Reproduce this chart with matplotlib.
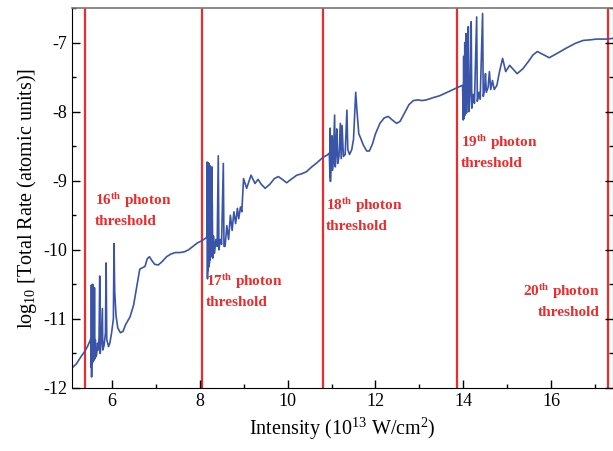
import matplotlib
matplotlib.use("Agg")
import matplotlib.pyplot as plt
from matplotlib.ticker import MultipleLocator

plt.rcParams['font.family'] = ['Liberation Serif', 'DejaVu Serif']
plt.rcParams['mathtext.fontset'] = 'custom'
plt.rcParams['mathtext.rm'] = 'Liberation Serif'
plt.rcParams['mathtext.bf'] = 'Liberation Serif:bold'
plt.rcParams['mathtext.it'] = 'Liberation Serif:italic'
plt.rcParams['axes.unicode_minus'] = False

# Intensity (10^13 W/cm^2)
intensity = [
    5.10, 5.20, 5.30, 5.39, 5.45, 5.50, 5.53, 5.535, 5.54, 5.545, 5.55, 5.555,
    5.56, 5.565, 5.57, 5.575, 5.585, 5.59, 5.595, 5.605, 5.61, 5.617, 5.63,
    5.64, 5.66, 5.68, 5.70, 5.715, 5.73, 5.74, 5.76, 5.79, 5.80, 5.83, 5.86,
    5.875, 5.89, 5.93, 5.96, 6.00, 6.04, 6.055, 6.07, 6.10, 6.14, 6.20, 6.26,
    6.32, 6.42, 6.50, 6.58, 6.64, 6.70, 6.76, 6.81, 6.86, 6.92, 6.98, 7.06,
    7.15, 7.25, 7.35, 7.45, 7.55, 7.65, 7.75, 7.85, 7.95, 8.05, 8.12, 8.16,
    8.168, 8.175, 8.18, 8.188, 8.195, 8.202, 8.208, 8.215, 8.222, 8.23, 8.24,
    8.25, 8.265, 8.28, 8.30, 8.315, 8.34, 8.37, 8.40, 8.425, 8.44, 8.47,
    8.50, 8.54, 8.555, 8.58, 8.62, 8.66, 8.70, 8.74, 8.78, 8.82, 8.86, 8.89,
    8.93, 8.96, 9.00, 9.07, 9.17, 9.26, 9.33, 9.40, 9.49, 9.60, 9.70, 9.79,
    9.88, 9.98, 10.08, 10.21, 10.32, 10.43, 10.55, 10.65, 10.74, 10.81,
    10.90, 10.95, 10.965, 10.97, 10.975, 10.99, 11.01, 11.02, 11.04, 11.07,
    11.085, 11.10, 11.12, 11.14, 11.17, 11.20, 11.22, 11.24, 11.27, 11.31,
    11.35, 11.37, 11.41, 11.46, 11.50, 11.55, 11.58, 11.62, 11.66, 11.72,
    11.80, 11.86, 11.93, 12.00, 12.10, 12.20, 12.29, 12.38, 12.48, 12.56,
    12.66, 12.76, 12.86, 12.96, 13.06, 13.16, 13.30, 13.46, 13.60, 13.70,
    13.80, 13.90, 13.98, 13.995, 14.005, 14.015, 14.03, 14.04, 14.055, 14.07,
    14.09, 14.11, 14.125, 14.15, 14.175, 14.19, 14.22, 14.25, 14.30, 14.315,
    14.35, 14.38, 14.435, 14.45, 14.48, 14.50, 14.52, 14.56, 14.59, 14.62,
    14.66, 14.70, 14.76, 14.82, 14.89, 14.96, 15.05, 15.12, 15.22, 15.35,
    15.47, 15.58, 15.68, 15.80, 15.95, 16.15, 16.34, 16.55, 16.72, 16.90,
    17.02, 17.25, 17.40,
]

# log10 total rate (atomic units)
log_rate = [
    -11.71, -11.65, -11.55, -11.47, -11.40, -11.33, -11.28, -11.70, -10.51,
    -11.84, -11.45, -10.53, -11.65, -11.35, -10.50, -11.62, -11.40, -10.62,
    -11.60, -11.38, -10.55, -11.58, -11.30, -11.55, -11.52, -11.35, -11.45,
    -11.25, -10.38, -11.50, -11.35, -10.85, -11.45, -11.38, -11.20, -10.19,
    -11.30, -11.40, -11.35, -11.20, -11.00, -9.91, -10.60, -10.95, -11.13,
    -11.20, -11.18, -11.08, -10.97, -10.80, -10.50, -10.28, -10.26, -10.24,
    -10.13, -10.10, -10.16, -10.21, -10.22, -10.17, -10.10, -10.06, -10.04,
    -10.04, -10.03, -10.00, -9.95, -9.90, -9.87, -9.84, -9.82,
    -9.80, -8.73, -10.42, -8.74, -10.30, -8.76, -10.25, -8.75, -10.20, -8.78,
    -10.15, -9.80, -10.10, -8.80, -10.12, -9.80, -10.05, -9.85, -9.95, -8.64,
    -10.00, -9.85, -9.92, -8.75, -9.95, -9.95, -9.65, -9.85, -9.50, -9.72,
    -9.45, -9.62, -9.40, -9.55, -9.38, -9.45, -8.97, -9.11, -8.92, -9.04,
    -8.98, -9.05, -9.11, -9.05, -8.97, -8.94, -8.98, -9.03, -8.98, -8.92,
    -8.90, -8.87, -8.80, -8.75, -8.70, -8.66, -8.63, -8.60, -8.95, -8.24,
    -9.01, -8.70, -8.35, -8.85, -8.70, -8.05, -8.80, -8.60, -8.25, -8.75,
    -8.65, -8.17, -8.68, -8.20, -8.65, -8.62, -7.98, -8.55, -8.62, -8.55,
    -8.40, -7.72, -8.00, -8.32, -8.38, -8.48, -8.57, -8.57, -8.47, -8.32,
    -8.17, -8.09, -8.07, -8.12, -8.17, -8.14, -8.02, -7.90, -7.84, -7.83,
    -7.84, -7.83, -7.80, -7.77, -7.73, -7.70, -7.67, -7.64, -7.62, -8.12,
    -7.20, -8.10, -7.00, -8.05, -6.87, -8.02, -7.60, -6.77, -8.00, -7.75,
    -6.70, -7.95, -7.75, -7.88, -6.63, -7.85, -7.72, -7.82, -6.58, -7.78,
    -7.68, -7.45, -7.72, -7.65, -7.42, -7.68, -7.55, -7.68, -7.62, -7.42,
    -7.23, -7.42, -7.33, -7.38, -7.45, -7.38, -7.28, -7.18, -7.13, -7.17,
    -7.22, -7.15, -7.08, -7.01, -6.97, -6.96, -6.95, -6.95, -6.94,
]

# photon thresholds (intensity positions)
thresholds = [5.40, 8.05, 10.81, 13.85, 17.28]
threshold_orders = ['16', '17', '18', '19', '20']
label_x = [5.62, 8.15, 10.88, 13.95, 17.10]
label_y = [-9.35, -10.52, -9.43, -8.51, -10.67]
label_ha = ['left', 'left', 'left', 'left', 'right']

fig = plt.figure(figsize=(6.13, 4.51), dpi=100)
ax = fig.add_axes([0.1175, 0.1397, 0.8825, 0.8426])

red = '#ee2a2a'
for t in thresholds:
    ax.axvline(t, color=red, lw=1.6, zorder=1)

ax.plot(intensity, log_rate, color='#3a55a8', lw=1.2, zorder=2)

for n, lx, ly, ha in zip(threshold_orders, label_x, label_y, label_ha):
    ax.text(lx, ly, n + r'$^{\mathbf{th}}$ photon', color=red, fontsize=11,
            fontweight='bold', ha=ha, va='baseline')
    ax.text(lx, ly - 0.29, 'threshold', color=red,
            fontsize=11, fontweight='bold', ha=ha, va='baseline')

ax.set_xlim(5.1, 17.4)
ax.set_ylim(-12, -6.5)
ax.xaxis.set_major_locator(MultipleLocator(2))
ax.xaxis.set_minor_locator(MultipleLocator(1))
ax.yaxis.set_major_locator(MultipleLocator(1))
ax.yaxis.set_minor_locator(MultipleLocator(0.5))
ax.tick_params(which='both', direction='in', top=False, right=True,
               labelsize=13, width=1.0)
ax.tick_params(which='major', length=6)
ax.tick_params(which='minor', length=3)
ax.spines['top'].set_color('#777777')
ax.spines['top'].set_linewidth(1.2)

ax.set_xlabel(r'Intensity (10$^{13}$ W/cm$^{2}$)', fontsize=14.5, labelpad=4)
ax.set_ylabel(r'log$_{10}$ [Total Rate (atomic units)]', fontsize=14.5, labelpad=3)

fig.savefig('out.png', dpi=100)
